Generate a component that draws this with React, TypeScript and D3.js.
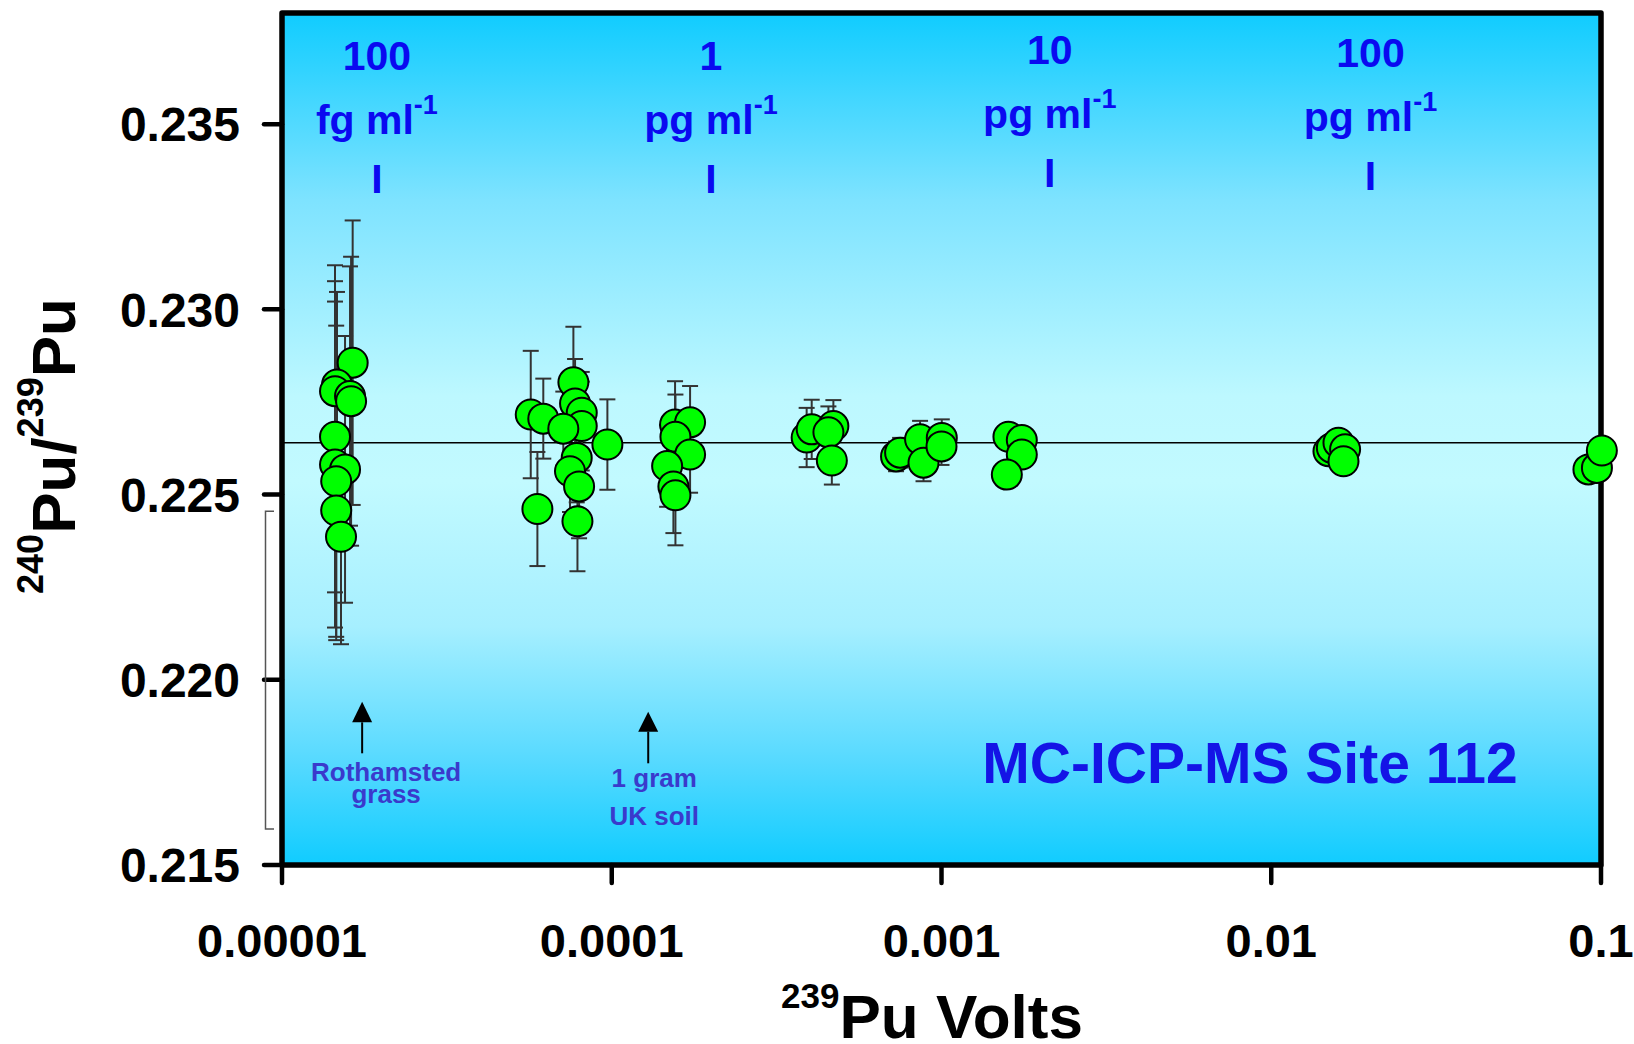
import React from "react";
import * as d3 from "d3";

// ---------- data ----------
const xTicks = [1e-5, 1e-4, 1e-3, 1e-2, 1e-1];
const xTickLabels = ["0.00001", "0.0001", "0.001", "0.01", "0.1"];
const yTicks = [0.215, 0.22, 0.225, 0.23, 0.235];
const yTickLabels = ["0.215", "0.220", "0.225", "0.230", "0.235"];
const referenceRatio = 0.2264;

const volts = [
  1.638e-5, 1.468e-5, 1.448e-5, 1.608e-5, 1.62e-5, 1.448e-5, 1.448e-5, 1.553e-5, 1.46e-5, 1.46e-5, 1.51e-5,
  5.68e-5, 6.2e-5, 5.95e-5, 7.65e-5, 7.74e-5, 8.11e-5, 8.11e-5, 7.13e-5, 7.83e-5, 7.47e-5, 7.96e-5, 7.87e-5, 9.7e-5,
  1.556e-4, 1.728e-4, 1.56e-4, 1.728e-4, 1.472e-4, 1.538e-4, 1.56e-4,
  3.9e-4, 4.04e-4, 4.7e-4, 4.54e-4, 4.65e-4,
  7.28e-4, 7.49e-4, 8.61e-4, 8.82e-4, 1.002e-3, 1.0e-3,
  1.596e-3, 1.752e-3, 1.752e-3, 1.578e-3,
  0.01491, 0.01527, 0.01599, 0.01675, 0.01656,
  0.0916, 0.0972, 0.1006,
];
const ratios = [
  0.22856, 0.22797, 0.22779, 0.22766, 0.22752, 0.22656, 0.22581, 0.22568, 0.22536, 0.22457, 0.22386,
  0.22716, 0.22705, 0.22461, 0.22803, 0.22746, 0.22721, 0.22685, 0.22678, 0.22599, 0.22563, 0.22522, 0.22428, 0.22635,
  0.22689, 0.22695, 0.22656, 0.22608, 0.22577, 0.22522, 0.22498,
  0.22654, 0.22676, 0.22685, 0.22668, 0.22592,
  0.22603, 0.22613, 0.22649, 0.22586, 0.22653, 0.2263,
  0.22656, 0.22647, 0.22608, 0.22554,
  0.22617, 0.22626, 0.2264, 0.22622, 0.2259,
  0.22568, 0.22572, 0.22619,
];
const errors = [
  0.00384, 0.0025, 0.0034, 0.0035, 0.0039, 0.0042, 0.0044, 0.0036, 0.0042, 0.0035, 0.0029,
  0.00172, 0.00108, 0.00154, 0.0015, 0.0012, 0.0011, 0.0012, 0.001, 0.0012, 0.0011, 0.0014, 0.00135, 0.00122,
  0.00117, 0.00098, 0.00114, 0.00103, 0.0011, 0.00126, 0.00135,
  0.0008, 0.0008, 0.0007, 0.0007, 0.00065,
  0.0004, 0.0004, 0.0005, 0.0005, 0.0005, 0.0005,
  0.0003, 0.0003, 0.0003, 0.0003,
  0.0002, 0.0002, 0.0002, 0.0002, 0.0002,
  0.0002, 0.0002, 0.0002,
];

const concX = [1.94e-5, 2e-4, 2.13e-3, 2e-2];
const concValues = ["100", "1", "10", "100"];
const concUnits = ["fg ml", "pg ml", "pg ml", "pg ml"];

const noteX = [1.75e-5, 1.29e-4];
const noteLines = [["Rothamsted", "grass"], ["1 gram", "UK soil"]];

const siteLabel = "MC-ICP-MS Site 112";
const bracketRange = [0.21597, 0.22455];

// ---------- layout ----------
const W = 1634;
const H = 1044;
const L = 282, R = 1601, T = 13, B = 865;
const FONT = "'Liberation Sans', Arial, Helvetica, sans-serif";

export default function App() {
  const x = d3.scaleLog().domain([1e-5, 0.1]).range([L, R]);
  const y = d3.scaleLinear().domain([0.215, 0.238]).range([B, T]);

  const pts = volts.map((v, i) => ({ v, r: ratios[i], e: errors[i] }));

  const concShift = [0, 0, -6, -3];
  const noteCfg = [
    { tip: 701.7, base: 722.3, end: 753.3, tx: 24, b1: 780.7, b2: 803 },
    { tip: 711.7, base: 731.7, end: 763.3, tx: 6, b1: 787.3, b2: 825 },
  ];

  return (
    <svg
      width={W}
      height={H}
      style={{ position: "absolute", left: 0, top: 0, background: "#fff" }}
      fontFamily={FONT}
    >
      <defs>
        <linearGradient id="bg" x1="0" y1="0" x2="0" y2="1">
          <stop offset="0%" stopColor="#10CCFF" />
          <stop offset="22%" stopColor="#7EE3FF" />
          <stop offset="45%" stopColor="#BDF8FF" />
          <stop offset="55%" stopColor="#C2FAFF" />
          <stop offset="72%" stopColor="#A6EFFF" />
          <stop offset="88%" stopColor="#55D9FF" />
          <stop offset="100%" stopColor="#10CCFF" />
        </linearGradient>
      </defs>

      {/* plot background */}
      <rect x={L} y={T} width={R - L} height={B - T} fill="url(#bg)" />

      {/* reference line */}
      <line x1={L} x2={R} y1={y(referenceRatio)} y2={y(referenceRatio)} stroke="#000" strokeWidth={1.6} />

      {/* frame */}
      <rect x={L} y={T} width={R - L} height={B - T} fill="none" stroke="#000" strokeWidth={5.5} strokeLinejoin="round" />

      {/* y ticks */}
      {yTicks.map((t, i) => (
        <g key={"yt" + i}>
          <line x1={L - 18} x2={L} y1={y(t)} y2={y(t)} stroke="#000" strokeWidth={4.5} strokeLinecap="round" />
          <text x={240} y={y(t)} dy="0.36em" textAnchor="end" fontSize={48} fontWeight="bold" fill="#000">
            {yTickLabels[i]}
          </text>
        </g>
      ))}

      {/* x ticks */}
      {xTicks.map((t, i) => (
        <g key={"xt" + i}>
          <line x1={x(t)} x2={x(t)} y1={B} y2={B + 18} stroke="#000" strokeWidth={4.5} strokeLinecap="round" />
          <text x={x(t)} y={957} textAnchor="middle" fontSize={47} fontWeight="bold" fill="#000">
            {xTickLabels[i]}
          </text>
        </g>
      ))}

      {/* stray bracket left of axis */}
      <path
        d={`M${L - 8},${y(bracketRange[1])} H${L - 16.5} V${y(bracketRange[0])} H${L - 8}`}
        fill="none"
        stroke="#555"
        strokeWidth={1.5}
      />

      {/* error bars */}
      {pts.map((p, i) => {
        const cx = x(p.v);
        const y0 = y(p.r + p.e);
        const y1 = y(p.r - p.e);
        return (
          <g key={"eb" + i} stroke="#333" strokeWidth={2}>
            <line x1={cx} x2={cx} y1={y0} y2={y1} />
            <line x1={cx - 8} x2={cx + 8} y1={y0} y2={y0} />
            <line x1={cx - 8} x2={cx + 8} y1={y1} y2={y1} />
          </g>
        );
      })}

      {/* points */}
      {pts.map((p, i) => (
        <circle key={"pt" + i} cx={x(p.v)} cy={y(p.r)} r={15} fill="#00FF00" stroke="#000" strokeWidth={2} />
      ))}

      {/* concentration labels */}
      {concX.map((c, i) => {
        const cx = x(c);
        const s = concShift[i];
        return (
          <g key={"cl" + i} fill="#0A0AF0" fontWeight="bold" textAnchor="middle">
            <text x={cx} y={70 + s} fontSize={41}>{concValues[i]}</text>
            <text x={cx} y={134 + s} fontSize={41}>
              {concUnits[i]}
              <tspan fontSize={27} dy={-20}>-1</tspan>
            </text>
            <text x={cx} y={193 + s} fontSize={41}>I</text>
          </g>
        );
      })}

      {/* notes with arrows */}
      {noteX.map((n, i) => {
        const ax = x(n);
        const c = noteCfg[i];
        return (
          <g key={"nt" + i}>
            <line x1={ax} x2={ax} y1={c.base} y2={c.end} stroke="#000" strokeWidth={2} />
            <path d={`M${ax},${c.tip} L${ax - 10},${c.base} L${ax + 10},${c.base} Z`} fill="#000" />
            <g fill="#3A3ACC" fontWeight="bold" fontSize={26} textAnchor="middle">
              <text x={ax + c.tx} y={c.b1}>{noteLines[i][0]}</text>
              <text x={ax + c.tx} y={c.b2}>{noteLines[i][1]}</text>
            </g>
          </g>
        );
      })}

      {/* site label */}
      <text x={1250} y={783} textAnchor="middle" fontSize={57} fontWeight="bold" fill="#1414E6">
        {siteLabel}
      </text>

      {/* x axis title */}
      <text x={932} y={1038} textAnchor="middle" fontWeight="bold" fill="#000">
        <tspan fontSize={35} dy={-30}>239</tspan>
        <tspan fontSize={62} dy={30}>Pu Volts</tspan>
      </text>

      {/* y axis title */}
      <text transform="translate(75,446) rotate(-90)" textAnchor="middle" fontWeight="bold" fill="#000">
        <tspan fontSize={36} dy={-32}>240</tspan>
        <tspan fontSize={62} dy={32}>Pu/</tspan>
        <tspan fontSize={36} dy={-32}>239</tspan>
        <tspan fontSize={62} dy={32}>Pu</tspan>
      </text>
    </svg>
  );
}
